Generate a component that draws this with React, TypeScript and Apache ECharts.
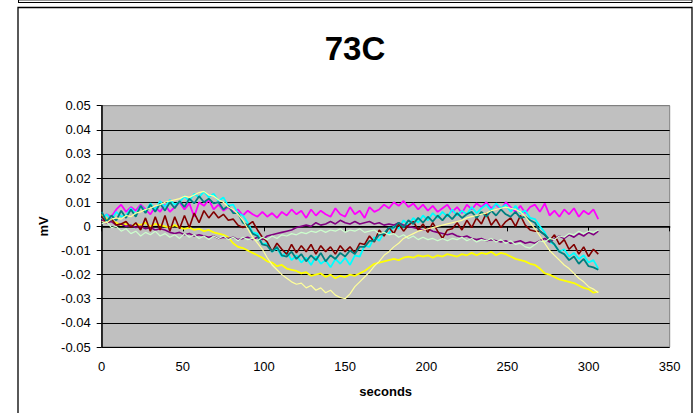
import React, { useEffect, useRef } from "react";
import * as echarts from "echarts";

// sample times (seconds)
const SECONDS: number[] = Array.from({ length: 103 }, (_, i) => i * 3);

// values in units of 0.001 mV, one per sample time
const MAGENTA = [
  3, 5, 4, 7, 9, 6, 8, 6.5, 9, 7,
  5, 8, 6, 9, 6, 8, 10, 7, 9.5, 4,
  10, 8.5, 11, 7, 9, 6.5, 8, 6, 7, 4.5,
  6.5, 5, 4, 6, 4, 5.5, 3.5, 6, 4.5, 7,
  5, 6.5, 3.5, 7, 4.5, 6.5, 5, 4, 7.5, 5,
  4, 8, 5, 6.5, 3.5, 8, 6, 7, 9, 7.5,
  10, 8.5, 10.5, 8, 9.5, 7, 9, 6.5, 8.5, 6,
  7.5, 9, 6, 8, 5.5, 9, 7, 9.5, 8, 10,
  7.5, 9, 7, 10, 8, 6, 8.5, 5.5, 8, 9,
  6, 9.5, 4.5, 6.5, 4, 7, 5, 7.5, 4, 6.5,
  5, 7, 3,
];
const CYAN = [
  3, 5, 2.5, 6, 4, 4.5, 7.5, 5, 8.5, 6,
  9.5, 7, 10.5, 8, 11, 9, 10, 12.5, 10.5, 13.5,
  12, 14.5, 12, 13.5, 10.5, 12, 8.5, 9, 5.5, 4.5,
  1.5, -2.5, -3, -7.5, -7, -10.5, -9, -12.5, -10.5, -14,
  -12, -15, -13, -16, -12.5, -15.5, -14, -17, -13.5, -15.5,
  -13, -16, -12, -12.5, -8, -8.5, -4.5, -6, -2.5, -3,
  0, -1, 2.5, 0.5, 3.5, 1.5, 4.5, 2.5, 5.5, 3.5,
  6, 4, 7, 4.5, 6.5, 5, 8, 5.5, 7.5, 9,
  6.5, 9.5, 7.5, 9, 6, 8.5, 5.5, 6.5, 3.5, 3,
  0, -2.5, -6.5, -7.5, -10.5, -9.5, -12.5, -11, -13.5, -12,
  -15, -14, -17.5,
];
const TEAL = [
  6, 2, 4.5, 2.5, 6.5, 3.5, 7, 4, 8.5, 5.5,
  9, 6, 9.5, 6.5, 10, 7.5, 10.5, 8, 11.5, 9.5,
  12.5, 10, 11.5, 9.5, 10, 7, 8.5, 5.5, 5.5, 1.5,
  0.5, -3, -4, -7.5, -8, -10.5, -8.5, -12, -12.5, -10.5,
  -13.5, -11.5, -14.5, -12, -14, -11, -14.5, -12, -13.5, -11,
  -12.5, -10, -11.5, -8.5, -8.5, -6, -6, -3.5, -3, -0.5,
  -0.5, 1.5, -0.5, 2.5, 1, 3.5, 1.5, 4, 2, 4.5,
  2.5, 5, 3, 5.5, 3.5, 5, 6, 3.5, 6, 4,
  6.5, 4.5, 7, 5, 4, 6, 3.5, 4, 2.5, 1.5,
  -2, -3.5, -5.5, -7.5, -10.5, -11.5, -14, -12.5, -15.5, -13.5,
  -16.5, -17, -18,
];
const DARK_RED = [
  4, 1.5, 3, 0.5, 1, 2, -0.5, 1.5, -1.5, 3.5,
  -2, 4, -1.5, 4.5, -2, 4, -1, 4.5, -0.5, 5.5,
  1.5, 6.5, 3.5, 6, 3.5, 5, 2.5, 3, 0.5, -0.5,
  0.5, 2, -1.5, -4.5, -6.5, -10.5, -7, -9.5, -11.5, -7.5,
  -11, -8, -10.5, -7.5, -11.5, -8, -10.5, -8.5, -11.5, -8,
  -10.5, -8.5, -11, -7, -7.5, -4, -6.5, -1.5, -4, -0.5,
  -3, 1, -2, 0.5, 2, -1.5, 1, -2.5, 1.5, -2,
  -5, -1.5, -1, 1.5, -1.5, 2.5, -0.5, 3.5, 1, 5.5,
  0.5, 3, -0.5, 2, 3.5, 0, 4.5, 0.5, -1.5, -2,
  -2, -3.5, -6, -3.5, -7.5, -5.5, -9.5, -7.5, -11.5, -8.5,
  -12.5, -9.5, -11.5,
];
const PURPLE = [
  2.5, 1.5, 2, 0.5, 1, 0, 0.5, -0.5, 0, -1,
  -0.5, -1.5, -1, -1.5, -2.5, -3, -2.5, -3.5, -3, -4,
  -3.5, -4, -4.5, -4, -5, -4.5, -5, -4.5, -5.5, -5,
  -4.5, -5.5, -4.5, -5.5, -4, -3.5, -3, -2.5, -2, -1.5,
  -0.5, 0, 0.5, 0, 1.5, 0.5, 1, 2, 1, 2.5,
  1.5, 1, 2, 1, 1.5, 2, 1, 1.5, 0.5, 1,
  0.5, 1.5, 0.5, 0, -0.5, -1, -1.5, -1, -2, -2.5,
  -3, -3.5, -3, -4, -4.5, -4, -5, -5.5, -5, -6,
  -5.5, -6, -6.5, -6, -7, -6.5, -6, -7, -6.5, -7,
  -6, -5, -6.5, -5, -4, -5, -3.5, -4.5, -3, -4,
  -2.5, -3.5, -2,
];
const PALE_GREEN = [
  1, 2, -0.5, 0, -2, -1, -3, -2, -4, -2.5,
  -3.5, -2, -4, -3, -4.5, -3.5, -5, -3, -4.5, -3.5,
  -5, -4, -5.5, -4, -5, -4, -5.5, -4.5, -6, -4.5,
  -5.5, -5, -6, -4.5, -5.5, -4, -5, -3.5, -4, -3,
  -3.5, -2.5, -3, -2, -2.5, -1.5, -2.5, -1.5, -2, -1,
  -2.5, -1.5, -2, -1, -2.5, -2, -1.5, -3, -2.5, -3.5,
  -3, -4.5, -3.5, -5, -4, -5.5, -4.5, -5.5, -5, -6,
  -5, -6, -5, -5.5, -4.5, -6, -5, -6.5, -5.5, -6,
  -5, -6.5, -5.5, -7, -6, -7.5, -7, -8.5, -9, -7.5,
  -6, -6.5, -5, -5.5, -4, -4.5, -3, -3.5, -2, -3,
  -2, -2.5, -1.5,
];
const LIGHT_YELLOW = [
  2, 1.5, 3, 3.5, 3, 4.5, 4, 5.5, 6, 7,
  7.5, 8.5, 9, 10, 10.5, 11, 11.5, 12.5, 12, 13,
  14, 14.5, 13, 12.5, 11, 10, 8, 7, 5, 2.5,
  -1, -4.5, -7, -9.5, -13, -16, -18, -20, -21.5, -23,
  -24, -23.5, -25.5, -24.5, -26.5, -25.5, -27.5, -26.5, -28.5, -29.5,
  -30, -28, -25, -23, -21, -19, -16.5, -14.5, -12, -10.5,
  -8.5, -7, -5, -4, -3, -2, -1.5, -1, -0.5, 0,
  0.5, 1, 1.5, 2, 2.5, 3.5, 4, 4.5, 5, 5.5,
  6.5, 7, 7.5, 8, 7.5, 7, 6, 4, 1.5, -1,
  -4, -7, -10, -12, -14, -16, -17.5, -19.5, -21.5, -23,
  -25, -26, -27.5,
];
const YELLOW = [
  5, 3, 2, 1.5, 0.5, 1, 0, 1, 0.5, 1.5,
  0, 1, 0.5, 0, -0.5, 0.5, -0.5, -1, -0.5, -1.5,
  -1, -2, -1.5, -2.5, -3, -3.5, -4.5, -7, -8.5, -9,
  -10, -11, -12, -13, -14.5, -15, -16.5, -16, -17.5, -18,
  -18.5, -19.5, -19, -20.5, -20, -19.5, -21, -20, -21.5, -20.5,
  -21, -20, -20.5, -19.5, -18.5, -17, -15.5, -15, -14.5, -14,
  -13.5, -14, -13, -12.5, -13, -12, -12.5, -12, -13, -12,
  -12.5, -11.5, -12, -12.5, -11.5, -12, -11, -12, -11, -11.5,
  -10.5, -12, -11, -11.5, -12.5, -13.5, -14, -14.5, -15.5, -16,
  -17.5, -19.5, -20, -21, -22, -22.5, -23, -23.5, -24.5, -25.5,
  -26, -27.5, -27,
];

const FONT = "'Liberation Sans', Arial, sans-serif";

const SERIES_DEFS = [
  { name: "s1", values: MAGENTA, color: "#FF00FF", width: 1.8 },
  { name: "s2", values: YELLOW, color: "#FFFF00", width: 1.8 },
  { name: "s3", values: CYAN, color: "#00FFFF", width: 1.8 },
  { name: "s4", values: PURPLE, color: "#800080", width: 1.6 },
  { name: "s5", values: DARK_RED, color: "#800000", width: 1.6 },
  { name: "s6", values: TEAL, color: "#008080", width: 1.8 },
  { name: "s7", values: PALE_GREEN, color: "#CCFFCC", width: 1.2 },
  { name: "s8", values: LIGHT_YELLOW, color: "#FFFF99", width: 1.2 },
];

const Y_TICKS = 11;

export default function App() {
  const ref = useRef<HTMLDivElement>(null);

  useEffect(() => {
    if (!ref.current) return;
    const chart = echarts.init(ref.current, undefined, { renderer: "svg" });
    const splitColors: string[] = [];
    for (let i = 0; i < Y_TICKS; i++) splitColors.push(i === Y_TICKS - 1 ? "#808080" : "#000000");

    chart.setOption({
      animation: false,
      backgroundColor: "#ffffff",
      grid: {
        left: 101.7,
        right: 26.3,
        top: 105.7,
        bottom: 66,
        show: true,
        backgroundColor: "#C0C0C0",
        borderColor: "#808080",
        borderWidth: 1,
      },
      xAxis: {
        type: "value",
        min: 0,
        max: 350,
        interval: 50,
        name: "seconds",
        nameLocation: "middle",
        nameGap: 38,
        nameTextStyle: { fontFamily: FONT, fontWeight: "bold", fontSize: 13, color: "#000" },
        axisLine: { show: true, lineStyle: { color: "#000", width: 1.5 } },
        axisTick: { show: true, length: 5, lineStyle: { color: "#000", width: 1 } },
        axisLabel: { color: "#000", fontSize: 13, fontFamily: FONT, margin: 13 },
        splitLine: { show: false },
      },
      yAxis: {
        type: "value",
        min: -0.05,
        max: 0.05,
        interval: 0.01,
        name: "mV",
        nameLocation: "middle",
        nameGap: 52,
        nameRotate: 90,
        nameTextStyle: { fontFamily: FONT, fontWeight: "bold", fontSize: 13, color: "#000" },
        axisLine: { show: true, lineStyle: { color: "#000", width: 1.5 } },
        axisTick: { show: true, length: 5, lineStyle: { color: "#000", width: 1 } },
        axisLabel: {
          color: "#000",
          fontSize: 13,
          fontFamily: FONT,
          margin: 11,
          formatter: (v: number) => {
            const r = Math.round(v * 100) / 100;
            return r === 0 ? "0" : r.toFixed(2);
          },
        },
        splitLine: { show: true, lineStyle: { color: splitColors, width: 1 } },
      },
      series: SERIES_DEFS.map((d) => ({
        name: d.name,
        type: "line",
        data: SECONDS.map((t, i) => [t, d.values[i] / 1000]),
        showSymbol: false,
        symbol: "none",
        silent: true,
        lineStyle: { color: d.color, width: d.width },
        itemStyle: { color: d.color },
        emphasis: { disabled: true },
      })),
      graphic: [
        { type: "line", shape: { x1: 18, y1: 2.5, x2: 692, y2: 2.5 }, style: { stroke: "#000", lineWidth: 1 } },
        { type: "line", shape: { x1: 18, y1: 0.5, x2: 692, y2: 0.5 }, style: { stroke: "#999", lineWidth: 1 } },
        { type: "line", shape: { x1: 18.5, y1: -2, x2: 18.5, y2: 2.5 }, style: { stroke: "#000", lineWidth: 1 } },
        { type: "line", shape: { x1: 692, y1: -2, x2: 692, y2: 2.5 }, style: { stroke: "#000", lineWidth: 1 } },
        {
          type: "rect",
          shape: { x: 18, y: 7.5, width: 674, height: 430 },
          style: { fill: "none", stroke: "#000", lineWidth: 1.3 },
        },
        {
          type: "text",
          x: 355,
          y: 48,
          style: {
            text: "73C",
            fontFamily: FONT,
            fontWeight: "bold",
            fontSize: 33,
            fill: "#000",
            textAlign: "center",
            textVerticalAlign: "middle",
          },
        },
      ],
    });
    return () => chart.dispose();
  }, []);

  return (
    <div
      ref={ref}
      style={{ position: "fixed", left: 0, top: 0, width: 696, height: 413 }}
    />
  );
}
